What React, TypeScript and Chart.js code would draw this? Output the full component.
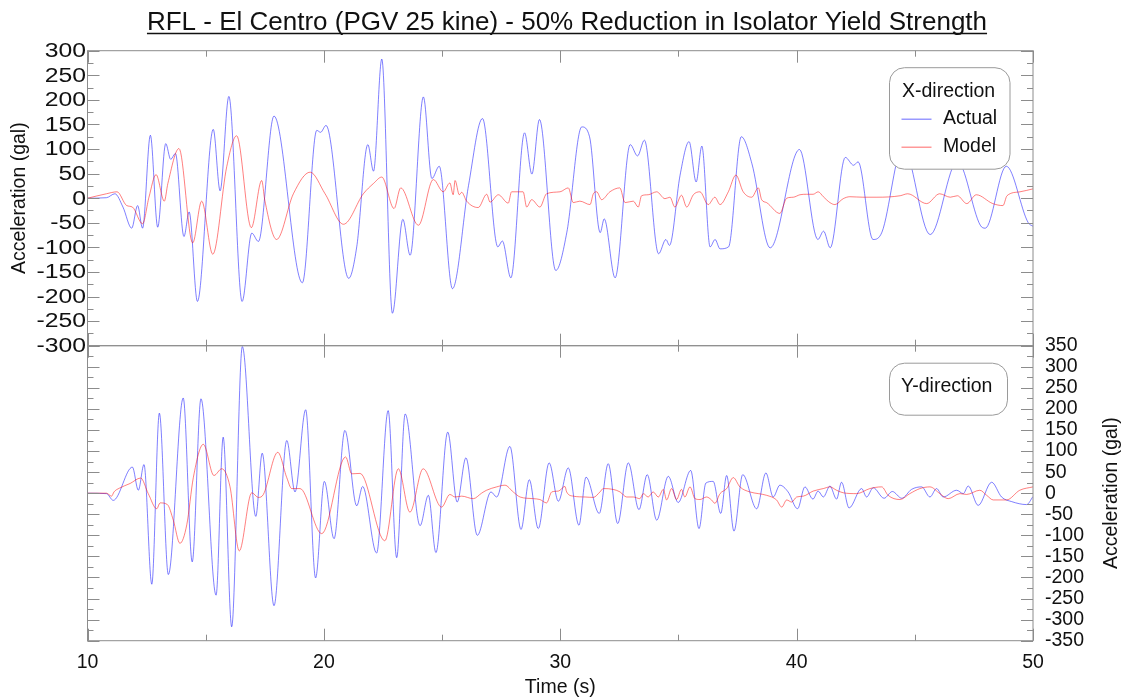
import React, { useEffect, useRef } from "react";
import { Chart, registerables } from "chart.js";

Chart.register(...registerables);

const FONT = "'Liberation Sans', Arial, Helvetica, sans-serif";
const TEXT = "#111111";
const FRAME = "#8c8c8c";
const BLUE = "rgba(0, 0, 255, 0.5)";
const RED = "rgba(255, 0, 0, 0.5)";

const TITLE = "RFL - El Centro (PGV 25 kine) - 50% Reduction in Isolator Yield Strength";
const X_TITLE = "Time (s)";
const Y_TITLE = "Acceleration (gal)";
const LEGEND_X_TITLE = "X-direction";
const LEGEND_Y_TITLE = "Y-direction";
const SERIES_NAMES = ["Actual", "Model"];

const xTicks = [10, 20, 30, 40, 50];
const topTicks = [300, 250, 200, 150, 100, 50, 0, -50, -100, -150, -200, -250, -300];
const bottomTicks = [350, 300, 250, 200, 150, 100, 50, 0, -50, -100, -150, -200, -250, -300, -350];

// ---- X-direction (top panel) ----
const actualXTime = [10.0, 10.8, 11.16, 11.5, 11.87, 12.12, 12.33, 12.66, 12.97, 13.31, 13.52, 13.72, 14.08, 14.30, 14.65, 15.32, 15.61, 15.98, 16.54, 16.95, 17.23, 17.89, 19.09, 19.70, 19.86, 20.09, 21.05, 21.39, 21.86, 22.10, 22.45, 22.90, 23.34, 23.65, 24.21, 24.57, 24.88, 25.44, 26.12, 26.71, 27.36, 27.55, 27.91, 28.49, 28.80, 29.12, 29.81, 30.28, 30.91, 31.24, 31.69, 31.86, 32.32, 32.96, 33.27, 33.56, 34.16, 34.47, 34.62, 35.07, 35.45, 35.75, 35.99, 36.34, 36.55, 36.76, 37.12, 37.66, 38.11, 38.88, 40.12, 40.90, 41.14, 41.42, 42.06, 42.41, 42.60, 43.23, 43.61, 44.50, 45.65, 46.80, 47.77, 47.98, 48.87, 49.80, 50.0];
const actualXAcc = [0, 1, 9, -18, -61, -15, -61, 128, -59, 111, 79, 91, -78, -28, -210, 140, 15, 207, -210, -71, -88, 167, -172, 138, 134, 148, -163, -99, 109, 55, 283, -234, -43, -116, 206, 40, 65, -184, 26, 162, -99, -87, -162, 133, 49, 160, -147, -69, 145, 125, -70, -42, -162, 109, 86, 118, -113, -84, -96, 47, 115, 33, 106, -99, -84, -103, -99, 125, 70, -101, 99, -84, -67, -101, 83, 67, 74, -84, -69, 105, -74, 75, -55, -61, 65, -50, -57];

const modelXTime = [10.0, 10.8, 11.25, 11.66, 11.9, 12.33, 12.6, 12.9, 13.25, 13.4, 13.87, 14.45, 14.83, 15.30, 15.89, 16.31, 16.93, 17.37, 17.5, 18.0, 18.71, 19.42, 20.05, 20.83, 21.67, 22.1, 22.45, 22.97, 23.25, 24.0, 24.63, 25.05, 25.33, 25.47, 25.55, 25.73, 25.83, 26.04, 26.53, 26.89, 27.03, 27.38, 27.80, 27.94, 28.43, 28.58, 28.79, 29.14, 29.42, 29.99, 30.34, 30.55, 30.83, 31.26, 31.40, 31.54, 31.75, 32.10, 32.52, 32.74, 33.09, 33.30, 33.44, 33.72, 34.08, 34.43, 34.64, 34.85, 35.13, 35.35, 35.63, 35.91, 36.26, 36.54, 36.76, 37.11, 37.43, 37.74, 38.10, 38.38, 38.52, 38.73, 39.29, 39.58, 39.86, 40.14, 40.42, 40.70, 40.91, 41.13, 41.41, 41.62, 41.97, 42.25, 42.8, 43.4, 44.38, 44.7, 45.5, 46.05, 46.5, 46.8, 47.2, 47.6, 48.3, 48.73, 48.9, 49.45, 50.0];
const modelXAcc = [0, 9, 13, -15, -18, -52, 2, 48, -6, 30, 101, -91, -6, -114, 64, 127, -60, 36, -4, -84, 9, 53, 9, -53, 9, 30, 43, -21, 21, -55, 38, 13, 31, 7, 36, 7, 12, -6, -19, 8, -8, 7, -10, 13, 13, -18, -3, -18, 9, 13, 21, -9, -6, -13, 9, 13, -3, 13, 21, -9, -6, -18, 5, 7, 13, -1, 2, -18, 6, -18, 7, 13, -13, 2, -13, 13, 47, 13, 2, 21, -3, -9, -31, 0, 2, 7, 8, 8, 13, 3, -9, -13, -1, 3, 2, 2, 5, 9, -11, 9, 2, 5, -11, 7, -11, -15, 5, 13, 19];

// ---- Y-direction (bottom panel) ----
const actualYTime = [10.0, 10.8, 11.09, 11.90, 12.15, 12.39, 12.72, 13.04, 13.42, 14.05, 14.43, 14.80, 15.44, 15.74, 16.10, 16.55, 17.12, 17.39, 17.89, 18.43, 18.78, 19.23, 19.65, 20.02, 20.43, 20.89, 21.39, 21.64, 22.23, 22.72, 23.08, 23.44, 24.07, 24.42, 24.74, 25.24, 25.64, 26.01, 26.49, 27.07, 27.31, 27.87, 28.34, 28.69, 29.07, 29.53, 29.92, 30.34, 30.79, 31.09, 31.65, 32.03, 32.43, 32.88, 33.33, 33.68, 34.08, 34.57, 34.99, 35.52, 35.87, 36.16, 36.47, 36.79, 37.04, 37.35, 37.72, 38.31, 38.70, 39.01, 39.29, 39.64, 40.04, 40.35, 40.69, 40.91, 41.13, 41.41, 41.69, 41.90, 42.22, 42.75, 42.96, 43.24, 43.70, 44.05, 44.45, 44.86, 45.29, 45.64, 45.92, 46.20, 46.77, 47.05, 47.26, 47.68, 48.25, 48.67, 49.10, 49.73, 50.0];
const actualYAcc = [0, -1, -17, 62, 7, 68, -216, 190, -193, 226, -163, 224, -242, 133, -317, 348, -55, 95, -267, 125, 3, 198, -201, 28, -108, 149, -30, 16, -142, 196, -153, 188, -77, -5, -141, 145, -21, 84, -100, 3, -9, 111, -86, 32, -84, 72, -19, 60, -76, 38, -48, 70, -72, 72, -39, 44, -64, 40, -22, 54, -84, 24, 28, -48, 42, -90, 44, -37, 48, -9, 19, 3, -37, 15, -14, 5, -9, 17, -14, 26, -35, 11, -9, 13, -12, 4, -12, 9, 15, -9, 11, -9, 7, -1, 17, -29, 26, -9, -20, -27, -8];

const modelYTime = [10.0, 10.8, 11.02, 11.12, 11.35, 11.80, 12.25, 12.57, 12.93, 13.07, 13.38, 13.63, 13.91, 14.20, 14.48, 14.90, 15.35, 15.68, 16.03, 16.42, 16.95, 17.23, 17.44, 18.05, 18.43, 18.64, 18.99, 19.91, 20.92, 21.18, 21.53, 22.58, 23.15, 23.64, 24.20, 24.98, 25.33, 25.55, 25.83, 26.32, 26.67, 26.88, 27.31, 27.66, 28.01, 28.30, 28.86, 29.14, 29.42, 29.64, 29.92, 30.20, 30.27, 30.55, 31.05, 31.40, 31.68, 31.82, 32.24, 32.53, 32.81, 33.09, 33.37, 33.51, 33.72, 33.93, 34.15, 34.36, 34.50, 34.71, 34.92, 35.13, 35.27, 35.49, 35.70, 35.91, 36.19, 36.40, 36.54, 36.76, 37.04, 37.32, 37.60, 38.02, 38.38, 38.73, 39.15, 39.37, 39.58, 39.79, 40.00, 40.28, 40.70, 41.13, 41.41, 41.69, 41.97, 42.54, 43.10, 43.60, 43.87, 44.37, 44.79, 45.22, 45.64, 46.06, 46.41, 46.91, 47.19, 47.75, 48.04, 48.32, 48.88, 49.44, 50.0];
const modelYAcc = [0, 0, -7, 3, 12, 23, 36, -1, -37, -23, -27, -64, -119, -75, 38, 116, 42, 58, 15, -137, 1, -10, -3, 97, 37, 11, 11, -96, 86, 46, 47, -113, 58, -45, 58, -33, -3, -9, -7, -13, 0, 7, 15, 19, 3, -9, -13, -15, -23, 3, 5, 16, 3, -7, -9, -10, 3, 11, 9, 3, -9, -9, -13, -1, -9, 3, -9, 9, -16, 11, -15, 9, -9, 15, -13, -15, -9, -16, -24, -1, 11, 37, 15, 3, -1, -5, -16, -33, -16, -21, -9, -7, 5, 11, 15, 7, 1, -1, 11, 15, -5, -15, -1, 11, 15, -1, -13, -1, -3, 7, -5, -16, -16, 7, 15];

const toPoints = (ts: number[], vs: number[]) => {
  const n = Math.min(ts.length, vs.length);
  const out: { x: number; y: number }[] = [];
  for (let i = 0; i < n; i++) out.push({ x: ts[i], y: vs[i] });
  return out;
};

function roundRectPath(ctx: CanvasRenderingContext2D, x: number, y: number, w: number, h: number, r: number) {
  ctx.beginPath();
  ctx.moveTo(x + r, y);
  ctx.arcTo(x + w, y, x + w, y + h, r);
  ctx.arcTo(x + w, y + h, x, y + h, r);
  ctx.arcTo(x, y + h, x, y, r);
  ctx.arcTo(x, y, x + w, y, r);
  ctx.closePath();
}

const decorPlugin = {
  id: "decor",
  afterDatasetsDraw(chart: any) {
    const ctx: CanvasRenderingContext2D = chart.ctx;
    const xs = chart.scales.x;
    const yT = chart.scales.yTop;
    const yB = chart.scales.yBot;
    const L = chart.chartArea.left;
    const R = chart.chartArea.right;
    const top = yT.top;
    const mid = yT.bottom;
    const bot = yB.bottom;

    ctx.save();
    // frames
    ctx.strokeStyle = FRAME;
    ctx.lineWidth = 1;
    ctx.strokeRect(L, top, R - L, mid - top);
    ctx.strokeRect(L, mid, R - L, bot - mid);

    // x ticks (inward)
    ctx.beginPath();
    for (let t = 10; t <= 50; t += 5) {
      const px = Math.round(xs.getPixelForValue(t)) + 0.5;
      const len = t % 10 === 0 ? 12 : 6;
      ctx.moveTo(px, top); ctx.lineTo(px, top + len);
      ctx.moveTo(px, mid - len); ctx.lineTo(px, mid + len);
      ctx.moveTo(px, bot - len); ctx.lineTo(px, bot);
    }
    // y ticks top panel
    for (let v = -300; v <= 300; v += 25) {
      const py = Math.round(yT.getPixelForValue(v)) + 0.5;
      const len = v % 50 === 0 ? 12 : 6;
      ctx.moveTo(L, py); ctx.lineTo(L + len, py);
      ctx.moveTo(R - len, py); ctx.lineTo(R, py);
    }
    // y ticks bottom panel
    for (let v = -350; v <= 350; v += 25) {
      const py = Math.round(yB.getPixelForValue(v)) + 0.5;
      const len = v % 50 === 0 ? 12 : 6;
      ctx.moveTo(L, py); ctx.lineTo(L + len, py);
      ctx.moveTo(R - len, py); ctx.lineTo(R, py);
    }
    ctx.stroke();

    // left tick labels (wide glyphs as in the reference)
    ctx.fillStyle = TEXT;
    ctx.font = `19.5px ${FONT}`;
    ctx.textAlign = "right";
    ctx.textBaseline = "middle";
    for (const v of topTicks) {
      const py = yT.getPixelForValue(v);
      ctx.save();
      ctx.translate(L - 1.5, py + 1);
      ctx.scale(1.27, 1);
      ctx.fillText(String(v), 0, 0);
      ctx.restore();
    }

    // axis titles
    ctx.textAlign = "center";
    ctx.save();
    ctx.translate(20, (top + mid) / 2);
    ctx.rotate(-Math.PI / 2);
    ctx.fillText(Y_TITLE, 0, 0);
    ctx.restore();
    ctx.save();
    ctx.translate(1112, (mid + bot) / 2);
    ctx.rotate(-Math.PI / 2);
    ctx.fillText(Y_TITLE, 0, 0);
    ctx.restore();
    ctx.fillText(X_TITLE, (L + R) / 2, 688);

    // title with underline
    ctx.font = `26px ${FONT}`;
    ctx.textAlign = "center";
    ctx.textBaseline = "alphabetic";
    const cx = 567;
    ctx.fillText(TITLE, cx, 29.5);
    const w = ctx.measureText(TITLE).width;
    ctx.strokeStyle = TEXT;
    ctx.lineWidth = 1.5;
    ctx.beginPath();
    ctx.moveTo(cx - w / 2, 33.5);
    ctx.lineTo(cx + w / 2, 33.5);
    ctx.stroke();

    // legend box X
    ctx.lineWidth = 1;
    ctx.strokeStyle = "#9a9a9a";
    ctx.fillStyle = "#ffffff";
    const bx = R - 143.5, by = top + 17;
    roundRectPath(ctx, bx, by, 120.5, 101.5, 15);
    ctx.fill();
    ctx.stroke();
    ctx.fillStyle = TEXT;
    ctx.font = `19.5px ${FONT}`;
    ctx.textAlign = "left";
    ctx.textBaseline = "middle";
    ctx.fillText(LEGEND_X_TITLE, bx + 12.5, by + 24);
    ctx.fillText(SERIES_NAMES[0], bx + 53.5, by + 51);
    ctx.fillText(SERIES_NAMES[1], bx + 53.5, by + 79);
    ctx.lineWidth = 1.2;
    ctx.strokeStyle = BLUE;
    ctx.beginPath(); ctx.moveTo(bx + 12, by + 51.5); ctx.lineTo(bx + 42, by + 51.5); ctx.stroke();
    ctx.strokeStyle = RED;
    ctx.beginPath(); ctx.moveTo(bx + 12, by + 79.5); ctx.lineTo(bx + 42, by + 79.5); ctx.stroke();

    // legend box Y
    ctx.lineWidth = 1;
    ctx.strokeStyle = "#9a9a9a";
    ctx.fillStyle = "#ffffff";
    const by2 = mid + 17.5;
    roundRectPath(ctx, bx, by2, 118, 52, 15);
    ctx.fill();
    ctx.stroke();
    ctx.fillStyle = TEXT;
    ctx.fillText(LEGEND_Y_TITLE, bx + 11.5, by2 + 23);

    ctx.restore();
  },
};

const baseAxis = {
  type: "linear" as const,
  grid: { display: false, drawTicks: false },
  border: { display: false },
};

export default function App() {
  const ref = useRef<HTMLCanvasElement>(null);

  useEffect(() => {
    document.body.style.margin = "0";
    const canvas = ref.current;
    if (!canvas) return;
    const chart = new Chart(canvas, {
      type: "line",
      data: {
        datasets: [
          { label: "Model X", data: toPoints(modelXTime, modelXAcc), yAxisID: "yTop", borderColor: RED, borderWidth: 1, pointRadius: 0, cubicInterpolationMode: "monotone", fill: false },
          { label: "Actual X", data: toPoints(actualXTime, actualXAcc), yAxisID: "yTop", borderColor: BLUE, borderWidth: 1, pointRadius: 0, cubicInterpolationMode: "monotone", fill: false },
          { label: "Model Y", data: toPoints(modelYTime, modelYAcc), yAxisID: "yBot", borderColor: RED, borderWidth: 1, pointRadius: 0, cubicInterpolationMode: "monotone", fill: false },
          { label: "Actual Y", data: toPoints(actualYTime, actualYAcc), yAxisID: "yBot", borderColor: BLUE, borderWidth: 1, pointRadius: 0, cubicInterpolationMode: "monotone", fill: false },
        ],
      },
      options: {
        responsive: false,
        devicePixelRatio: 1,
        animation: false,
        events: [],
        layout: { padding: { top: 50.7, left: 0, right: 0, bottom: 0 } },
        plugins: { legend: { display: false }, title: { display: false }, tooltip: { enabled: false } },
        scales: {
          x: {
            ...baseAxis,
            position: "bottom",
            min: 10,
            max: 50,
            afterBuildTicks: (s: any) => { s.ticks = xTicks.map((v) => ({ value: v })); },
            ticks: { font: { family: FONT, size: 19.5 }, color: TEXT, padding: 10.5, maxRotation: 0, autoSkip: false },
            afterFit: (s: any) => { s.height = 58.3; },
          },
          yTop: {
            ...baseAxis,
            position: "left",
            stack: "leftStack",
            stackWeight: 1,
            weight: 2,
            min: -300,
            max: 300,
            ticks: { display: false },
            afterFit: (s: any) => { s.width = 87.5; },
          },
          yBotL: {
            ...baseAxis,
            position: "left",
            stack: "leftStack",
            stackWeight: 1,
            weight: 1,
            min: -350,
            max: 350,
            ticks: { display: false },
            afterFit: (s: any) => { s.width = 87.5; },
          },
          yTopR: {
            ...baseAxis,
            position: "right",
            stack: "rightStack",
            stackWeight: 1,
            weight: 1,
            min: -300,
            max: 300,
            ticks: { display: false },
            afterFit: (s: any) => { s.width = 93; },
          },
          yBot: {
            ...baseAxis,
            position: "right",
            stack: "rightStack",
            stackWeight: 1,
            weight: 2,
            min: -350,
            max: 350,
            afterBuildTicks: (s: any) => { s.ticks = bottomTicks.map((v) => ({ value: v })); },
            ticks: { font: { family: FONT, size: 19.5 }, color: TEXT, padding: 12, autoSkip: false },
            afterFit: (s: any) => { s.width = 93; },
          },
        },
      } as any,
      plugins: [decorPlugin],
    });
    return () => chart.destroy();
  }, []);

  return (
    <div style={{ width: 1126, height: 699, background: "#ffffff" }}>
      <canvas ref={ref} width={1126} height={699} style={{ display: "block" }} />
    </div>
  );
}
